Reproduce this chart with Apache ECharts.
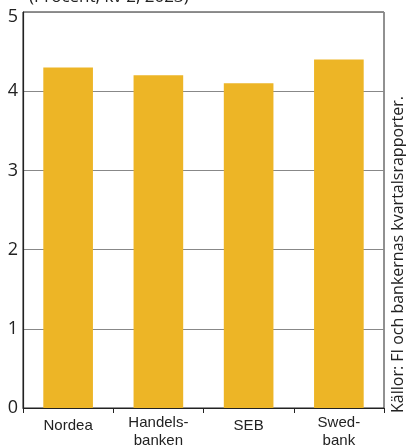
<!DOCTYPE html>
<html><head><meta charset="utf-8">
<script src="https://cdn.jsdelivr.net/npm/echarts@6/dist/echarts.min.js"></script>
<style>html,body{margin:0;padding:0;background:#fff}#c{width:406px;height:448px}</style>
</head><body><div id="c"></div>
<script>
const categories = ['Nordea', 'Handels-\nbanken', 'SEB', 'Swed-\nbank'];
const values = [4.3, 4.2, 4.1, 4.4];
const titleText = '(Procent, kv 2, 2023)';
const sourceText = 'Källor: FI och bankernas kvartalsrapporter.';

const chart = echarts.init(document.getElementById('c'));
chart.setOption({
  animation: false,
  backgroundColor: '#fff',
  title: {
    text: titleText, left: 24, top: -16,
    textStyle: { fontFamily: 'Open Sans', fontSize: 17, fontWeight: 'normal', color: '#222' }
  },
  graphic: [{
    type: 'text', rotation: Math.PI / 2, x: 406, y: 413,
    style: { text: sourceText, fontFamily: 'Open Sans', fontSize: 16, fill: '#222',
             align: 'left', verticalAlign: 'bottom' }
  }],
  grid: { left: 23, right: 22, top: 12, bottom: 40, show: true, borderColor: '#222', borderWidth: 1,
          outerBoundsMode: 'none', containLabel: false },
  xAxis: {
    type: 'category', data: categories,
    axisLine: { lineStyle: { color: '#222', width: 1.2 } },
    axisTick: { show: true, length: 5, lineStyle: { color: '#222' } },
    axisLabel: {
      interval: 0, hideOverlap: false,
      fontFamily: 'Liberation Sans', fontSize: 15, color: '#222', lineHeight: 18, margin: 6,
      formatter: function (v) { return v.indexOf('\n') < 0 ? '{s|' + v + '}' : v; },
      rich: { s: { fontFamily: 'Liberation Sans', fontSize: 15, color: '#222', padding: [6, 0, 0, 0] } }
    }
  },
  yAxis: {
    type: 'value', min: 0, max: 5, interval: 1,
    axisLine: { show: true, lineStyle: { color: '#222', width: 1.2 } },
    axisTick: { show: false },
    splitLine: { lineStyle: { color: '#888', width: 1.2 } },
    axisLabel: {
      fontFamily: 'Open Sans', fontSize: 18, color: '#222', margin: 5,
      formatter: function (v) { return v === 5 ? '{t|5}' : String(v); },
      rich: { t: { fontFamily: 'Open Sans', fontSize: 18, color: '#222', padding: [9, 0, 0, 0] } }
    }
  },
  series: [{
    type: 'bar', data: values, barWidth: '55%',
    itemStyle: { color: '#EDB526' }
  }]
});
</script></body></html>
